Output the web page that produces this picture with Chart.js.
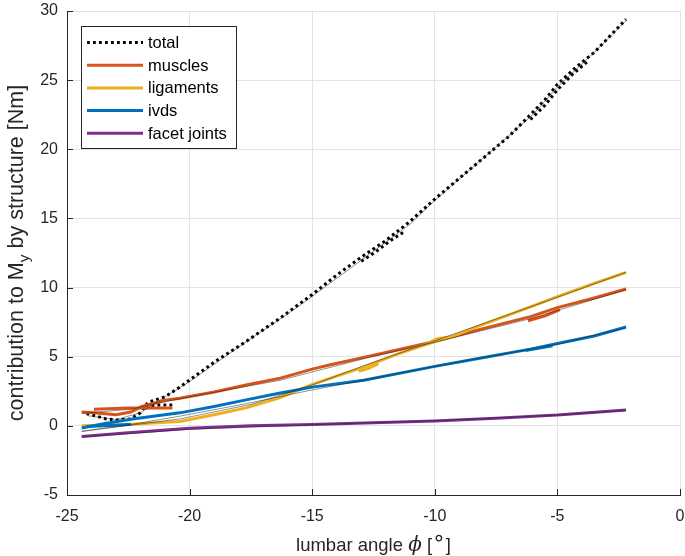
<!DOCTYPE html>
<html>
<head>
<meta charset="utf-8">
<script src="https://cdn.jsdelivr.net/npm/chart.js@4.4.1/dist/chart.umd.min.js"></script>
<style>
html, body { margin: 0; padding: 0; background: #fff; }
#wrap { width: 685px; height: 556px; }
</style>
</head>
<body>
<div id="wrap"><canvas id="chart" width="685" height="556"></canvas></div>
<script>
const xTicks = [-25, -20, -15, -10, -5, 0]
const yTicks = [-5, 0, 5, 10, 15, 20, 25, 30]

const seriesNames = ["total", "muscles", "ligaments", "ivds", "facet joints"]
const seriesColors = ["#000000", "#D95319", "#EDB120", "#0072BD", "#7E2F8E"]

// total moment (dotted)
const totalX = [-24.2, -23.9, -23.4, -23.0, -22.4, -22.0, -21.7, -21.0, -20.4, -19.0, -17.7, -16.3, -15.0, -14.0, -13.0, -12.0, -11.0, -10.0, -9.0, -8.0, -7.0, -6.1, -5.5, -5.0, -4.2, -3.5, -2.2]
const totalY = [0.9, 0.75, 0.5, 0.43, 0.5, 0.95, 1.7, 2.1, 2.8, 4.6, 6.1, 7.8, 9.5, 10.9, 12.2, 13.4, 14.8, 16.4, 17.9, 19.4, 20.9, 22.5, 23.6, 24.7, 26.0, 27.0, 29.4]
const totalBackX = [[-21.8, -21.2, -20.6], [-13.0, -12.4, -11.8, -11.2], [-6.1, -5.5, -5.0, -4.4, -3.8]]
const totalBackY = [[1.45, 1.5, 1.5], [11.9, 12.6, 13.4, 14.1], [22.15, 23.2, 24.3, 25.4, 26.3]]

const musclesX = [-24.4, -23.9, -23.0, -22.4, -21.95, -21.0, -20.4, -19.0, -17.7, -16.3, -15.0, -14.3, -12.9, -11.5, -10.0, -8.0, -6.1, -5.0, -3.5, -2.2]
const musclesY = [1.0, 0.95, 0.8, 1.0, 1.4, 1.85, 2.0, 2.45, 2.95, 3.45, 4.1, 4.4, 4.95, 5.5, 6.1, 7.05, 7.9, 8.55, 9.25, 9.9]
const musclesBackX = [[-23.9, -22.5, -20.7], [-6.2, -5.5, -4.9]]
const musclesBackY = [[1.2, 1.3, 1.3], [7.6, 7.95, 8.4]]

const ligamentsX = [-24.4, -23.5, -22.5, -21.5, -20.4, -19.0, -17.7, -16.3, -15.0, -14.0, -12.9, -11.5, -10.0, -9.4, -8.0, -6.1, -5.0, -3.5, -2.2]
const ligamentsY = [0.0, 0.05, 0.1, 0.2, 0.31, 0.8, 1.3, 2.05, 3.0, 3.6, 4.25, 5.2, 6.1, 6.4, 7.35, 8.6, 9.35, 10.3, 11.1]
const ligamentsBackX = [[-13.1, -12.7, -12.3], [-10.3, -9.9, -9.3]]
const ligamentsBackY = [[3.95, 4.15, 4.5], [5.95, 6.3, 6.45]]

const ivdsX = [-24.4, -23.5, -22.4, -21.4, -20.4, -19.0, -17.7, -16.3, -15.0, -12.9, -10.0, -8.0, -6.1, -5.0, -3.5, -2.2]
const ivdsY = [-0.15, 0.15, 0.48, 0.72, 0.94, 1.4, 1.88, 2.38, 2.8, 3.3, 4.3, 4.95, 5.55, 5.95, 6.5, 7.15]
const ivdsBackX = [[-24.2, -23.0, -22.4], [-6.3, -5.2]]
const ivdsBackY = [[-0.05, 0.05, 0.12], [5.45, 5.8]]

const facetX = [-24.4, -22.5, -20.0, -17.5, -15.0, -12.5, -10.0, -7.5, -5.0, -2.2]
const facetY = [-0.77, -0.5, -0.18, 0.0, 0.1, 0.22, 0.36, 0.55, 0.78, 1.15]

// thin black model fits
const fitTotalX = [-24.2, -23.0, -22.0, -21.0, -20.0, -18.0, -16.0, -15.2, -12.9, -11.0, -10.0, -8.0, -6.0, -5.0, -3.5, -2.2]
const fitTotalY = [0.75, 0.45, 0.95, 2.1, 3.2, 5.7, 8.1, 9.1, 12.1, 14.6, 16.3, 19.4, 22.5, 24.5, 27.0, 29.3]
const fitMusclesX = [-24.4, -22.4, -21.0, -20.0, -16.3, -12.9, -10.0, -6.1, -2.2]
const fitMusclesY = [0.9, 1.2, 1.75, 2.1, 3.3, 4.85, 6.05, 7.75, 9.85]
const fitLigamentsX = [-24.4, -20.4, -17.5, -15.0, -12.9, -10.0, -5.0, -2.2]
const fitLigamentsY = [-0.4, 0.5, 1.55, 2.95, 4.35, 6.15, 9.3, 11.1]
const fitIvdsX = [-24.4, -22.4, -20.4, -17.7, -15.0, -12.9, -10.0, -5.0, -2.2]
const fitIvdsY = [-0.4, 0.1, 0.7, 1.6, 2.6, 3.3, 4.3, 5.9, 7.1]
const fitFacetX = [-24.4, -20.0, -15.0, -10.0, -5.0, -2.2]
const fitFacetY = [-0.8, -0.25, 0.08, 0.38, 0.78, 1.12]

function pts(xs, ys) {
    return xs.map((x, i) => ({ x: x, y: ys[i] }))
}

const font = "'Liberation Sans', Arial, Helvetica, sans-serif"
const datasets = []

function addSeries(idx, xs, ys, backXs, backYs, order) {
    const base = {
        borderColor: seriesColors[idx],
        borderWidth: 3,
        borderDash: idx === 0 ? [2.8, 3.2] : [],
        borderCapStyle: "butt",
        pointRadius: 0,
        showLine: true,
        fill: false,
        order: order
    }
    datasets.push(Object.assign({ label: seriesNames[idx], data: pts(xs, ys) }, base))
    backXs.forEach((bx, j) => {
        datasets.push(Object.assign({ label: seriesNames[idx] + " back", data: pts(bx, backYs[j]) }, base))
    })
}

addSeries(0, totalX, totalY, totalBackX, totalBackY, 5)
addSeries(1, musclesX, musclesY, musclesBackX, musclesBackY, 4)
addSeries(2, ligamentsX, ligamentsY, ligamentsBackX, ligamentsBackY, 3)
addSeries(3, ivdsX, ivdsY, ivdsBackX, ivdsBackY, 2)
addSeries(4, facetX, facetY, [], [], 1)

const fits = [[fitTotalX, fitTotalY], [fitMusclesX, fitMusclesY], [fitLigamentsX, fitLigamentsY], [fitIvdsX, fitIvdsY], [fitFacetX, fitFacetY]]
fits.forEach(f => {
    datasets.push({
        label: "fit", data: pts(f[0], f[1]), borderColor: "#222", borderWidth: 0.5,
        pointRadius: 0, showLine: true, fill: false, order: 0
    })
})

// legend, inward ticks and axis titles
const decor = {
    id: "decor",
    afterDraw(chart) {
        const ctx = chart.ctx
        const a = chart.chartArea
        const xs = chart.scales.x, ys = chart.scales.y
        ctx.save()
        // inward ticks
        ctx.strokeStyle = "#262626"
        ctx.lineWidth = 1
        ctx.beginPath()
        xTicks.forEach(v => {
            const px = Math.round(xs.getPixelForValue(v)) + 0.5
            ctx.moveTo(px, a.bottom); ctx.lineTo(px, a.bottom - 6)
        })
        yTicks.forEach(v => {
            const py = Math.round(ys.getPixelForValue(v)) + 0.5
            ctx.moveTo(a.left, py); ctx.lineTo(a.left + 6, py)
        })
        ctx.stroke()

        // legend
        const bx = a.left + 14, by = a.top + 15, bw = 155, bh = 122
        ctx.fillStyle = "#fff"
        ctx.fillRect(bx, by, bw, bh)
        ctx.strokeStyle = "#262626"
        ctx.lineWidth = 1
        ctx.strokeRect(bx + 0.5, by + 0.5, bw, bh)
        ctx.font = "16.5px " + font
        ctx.textBaseline = "middle"
        ctx.textAlign = "left"
        seriesNames.forEach((name, i) => {
            const y = by + 16.5 + i * 22.7
            ctx.beginPath()
            ctx.strokeStyle = seriesColors[i]
            ctx.lineWidth = 3
            ctx.setLineDash(i === 0 ? [2.8, 3.2] : [])
            ctx.moveTo(bx + 6, y); ctx.lineTo(bx + 62, y)
            ctx.stroke()
            ctx.setLineDash([])
            ctx.fillStyle = "#000"
            ctx.fillText(name, bx + 67, y + 1)
        })

        // x title
        ctx.fillStyle = "#262626"
        ctx.textBaseline = "alphabetic"
        const cx = (a.left + a.right) / 2
        const ty = 551
        const parts = [
            { t: "lumbar angle ", f: "18.5px " + font, dy: 0 },
            { t: "\u03d5", f: "italic 20px 'DejaVu Serif', serif", dy: 0 },
            { t: " [", f: "18.5px " + font, dy: 0 },
            { t: "\u2218", f: "22px 'DejaVu Sans', sans-serif", dy: -6 },
            { t: "]", f: "18.5px " + font, dy: 0 }
        ]
        let w = 0
        parts.forEach(p => { ctx.font = p.f; p.w = ctx.measureText(p.t).width; w += p.w })
        let x0 = cx - w / 2
        parts.forEach(p => { ctx.font = p.f; ctx.fillText(p.t, x0, ty + p.dy); x0 += p.w })

        // y title (rotated)
        ctx.translate(23, (a.top + a.bottom) / 2)
        ctx.rotate(-Math.PI / 2)
        const yparts = [
            { t: "contribution to M", f: "21.5px " + font, dy: 0 },
            { t: "y", f: "15.5px " + font, dy: 6 },
            { t: " by structure [Nm]", f: "21.5px " + font, dy: 0 }
        ]
        w = 0
        yparts.forEach(p => { ctx.font = p.f; p.w = ctx.measureText(p.t).width; w += p.w })
        x0 = -w / 2
        yparts.forEach(p => { ctx.font = p.f; ctx.fillText(p.t, x0, p.dy); x0 += p.w })
        ctx.restore()
    }
}

function noPadX(s) { s.height = 61; s.paddingLeft = 0; s.paddingRight = 0 }
function noPadY(s) { s.width = 67; s.paddingTop = 0; s.paddingBottom = 0 }

new Chart(document.getElementById("chart"), {
    type: "scatter",
    data: { datasets: datasets },
    options: {
        responsive: false,
        animation: false,
        layout: { padding: { left: 0, top: 11, right: 5, bottom: 0 } },
        plugins: { legend: { display: false }, tooltip: { enabled: false } },
        elements: { line: { tension: 0 } },
        scales: {
            x: {
                type: "linear", min: -25, max: 0,
                afterBuildTicks: s => { s.ticks = xTicks.map(v => ({ value: v })) },
                afterFit: noPadX,
                grid: { color: "#e3e3e3", drawTicks: false },
                border: { color: "#262626", width: 1 },
                ticks: { color: "#262626", font: { family: font, size: 16 }, padding: 12 }
            },
            y: {
                type: "linear", min: -5, max: 30,
                afterBuildTicks: s => { s.ticks = yTicks.map(v => ({ value: v })) },
                afterFit: noPadY,
                grid: { color: "#e3e3e3", drawTicks: false },
                border: { color: "#262626", width: 1 },
                ticks: { color: "#262626", font: { family: font, size: 16 }, padding: 9 }
            }
        }
    },
    plugins: [decor]
})
</script>
</body>
</html>
